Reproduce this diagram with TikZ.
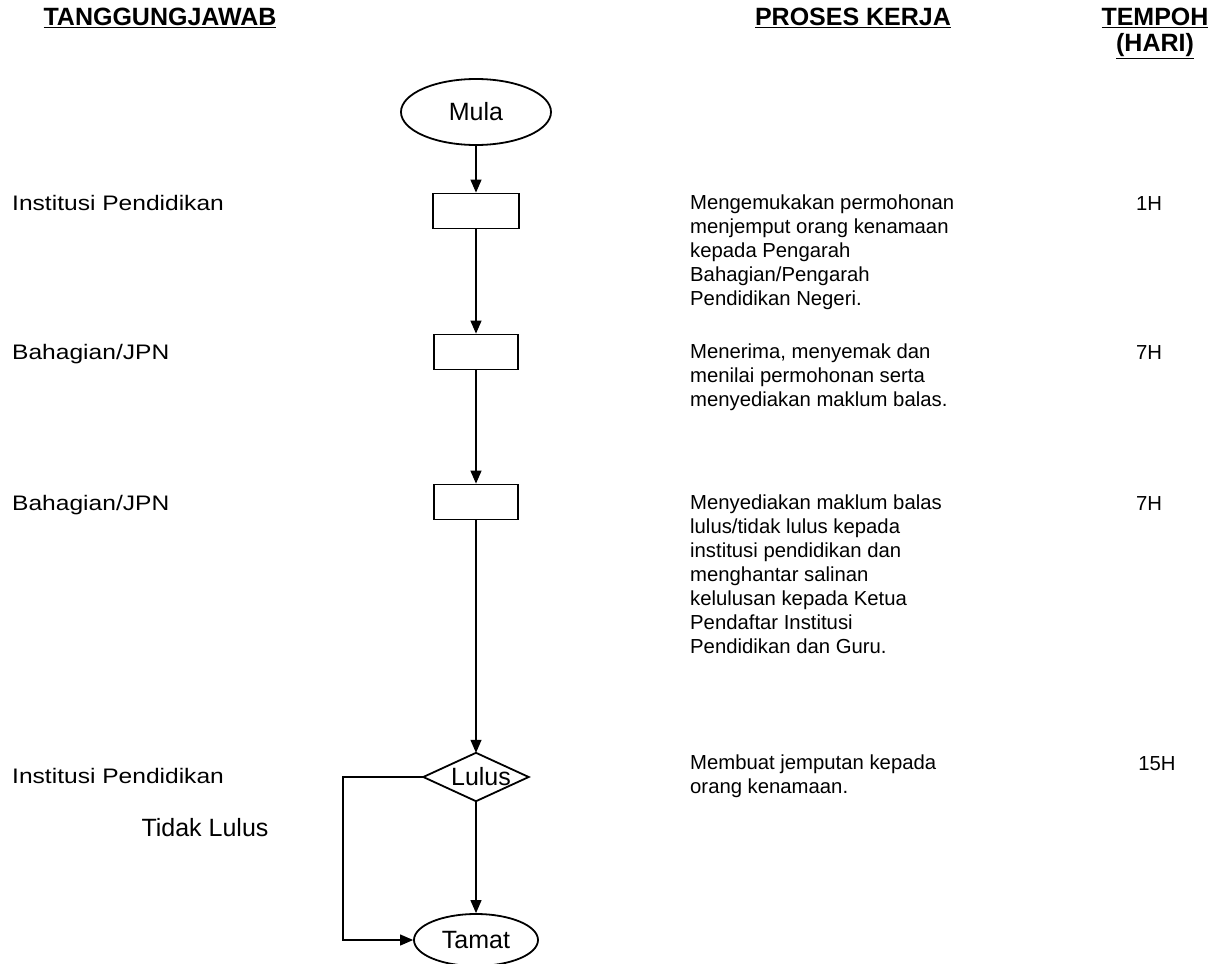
\documentclass[tikz,border=0pt]{standalone}
\usepackage{fontspec}
\setmainfont{Liberation Sans}
\usetikzlibrary{shapes.geometric,arrows.meta}
\begin{document}
\begin{tikzpicture}[x=1pt,y=-1pt,
  every node/.style={font=\fontsize{20.3}{24}\selectfont, inner sep=0pt},
  hdr/.style={font=\fontsize{25}{26}\selectfont\bfseries, align=center},
  term/.style={draw, ellipse, line width=1.8pt, font=\fontsize{25}{26}\selectfont},
  stepbox/.style={draw, rectangle, line width=1.8pt, minimum width=84pt, minimum height=35pt},
  lbl/.style={anchor=base west},
  desc/.style={anchor=north west, align=left},
  dur/.style={anchor=base},
  conn/.style={line width=1.2pt, -{Triangle[length=13pt,width=11pt]}}
]
\useasboundingbox (0,0) rectangle (1219,964);
% headers
\node[hdr] (h1) at (160,18) {\underline{TANGGUNGJAWAB}};
\node[hdr] (h2) at (853,18) {\underline{PROSES KERJA}};
\node[hdr] (h3) at (1155,33) {\underline{TEMPOH}\\\underline{(HARI)}};
% flow
\node[term, minimum width=150pt, minimum height=66pt] (mula) at (476,112) {Mula};
\node[stepbox, minimum width=86pt] (b1) at (476,211) {};
\node[stepbox] (b2) at (476,352) {};
\node[stepbox] (b3) at (476,502) {};
\node[minimum width=105pt, minimum height=48pt, font=\fontsize{25}{26}\selectfont] (d) at (476,777) {\hspace{10pt}Lulus};
\draw[line width=1.8pt] (d.north) -- (d.east) -- (d.south) -- (d.west) -- cycle;
\node[term, minimum width=124pt, minimum height=52pt] (tamat) at (476,940) {Tamat};
\coordinate (c2) at (343,940);
\draw[conn] (mula) -- (b1);
\draw[conn] (b1) -- (b2);
\draw[conn] (b2) -- (b3);
\draw[conn] (b3) -- (d.north);
\draw[conn] (d.south) -- (tamat);
\draw[conn] (d.west) -| (c2) -- (tamat.west);
\node[font=\fontsize{25}{26}\selectfont] (tl) at (205,828) {Tidak Lulus};
% left labels
\node[lbl] (l1) at (12,210) {\scalebox{1.17}[1]{\fontsize{21}{24}\selectfont Institusi Pendidikan}};
\node[lbl] (l2) at (12,359) {\scalebox{1.17}[1]{\fontsize{21}{24}\selectfont Bahagian/JPN}};
\node[lbl] (l3) at (12,510) {\scalebox{1.17}[1]{\fontsize{21}{24}\selectfont Bahagian/JPN}};
\node[lbl] (l4) at (12,783) {\scalebox{1.17}[1]{\fontsize{21}{24}\selectfont Institusi Pendidikan}};
% descriptions
\node[desc] (p1) at (690,195) {Mengemukakan permohonan\\menjemput orang kenamaan\\kepada Pengarah\\Bahagian/Pengarah\\Pendidikan Negeri.};
\node[desc] (p2) at (690,344) {Menerima, menyemak dan\\menilai permohonan serta\\menyediakan maklum balas.};
\node[desc] (p3) at (690,495) {Menyediakan maklum balas\\lulus/tidak lulus kepada\\institusi pendidikan dan\\menghantar salinan\\kelulusan kepada Ketua\\Pendaftar Institusi\\Pendidikan dan Guru.};
\node[desc] (p4) at (690,755) {Membuat jemputan kepada\\orang kenamaan.};
% durations
\node[dur] (t1) at (1149,210) {1H};
\node[dur] (t2) at (1149,359) {7H};
\node[dur] (t3) at (1149,510) {7H};
\node[dur] (t4) at (1157,770) {15H};
\end{tikzpicture}
\end{document}
